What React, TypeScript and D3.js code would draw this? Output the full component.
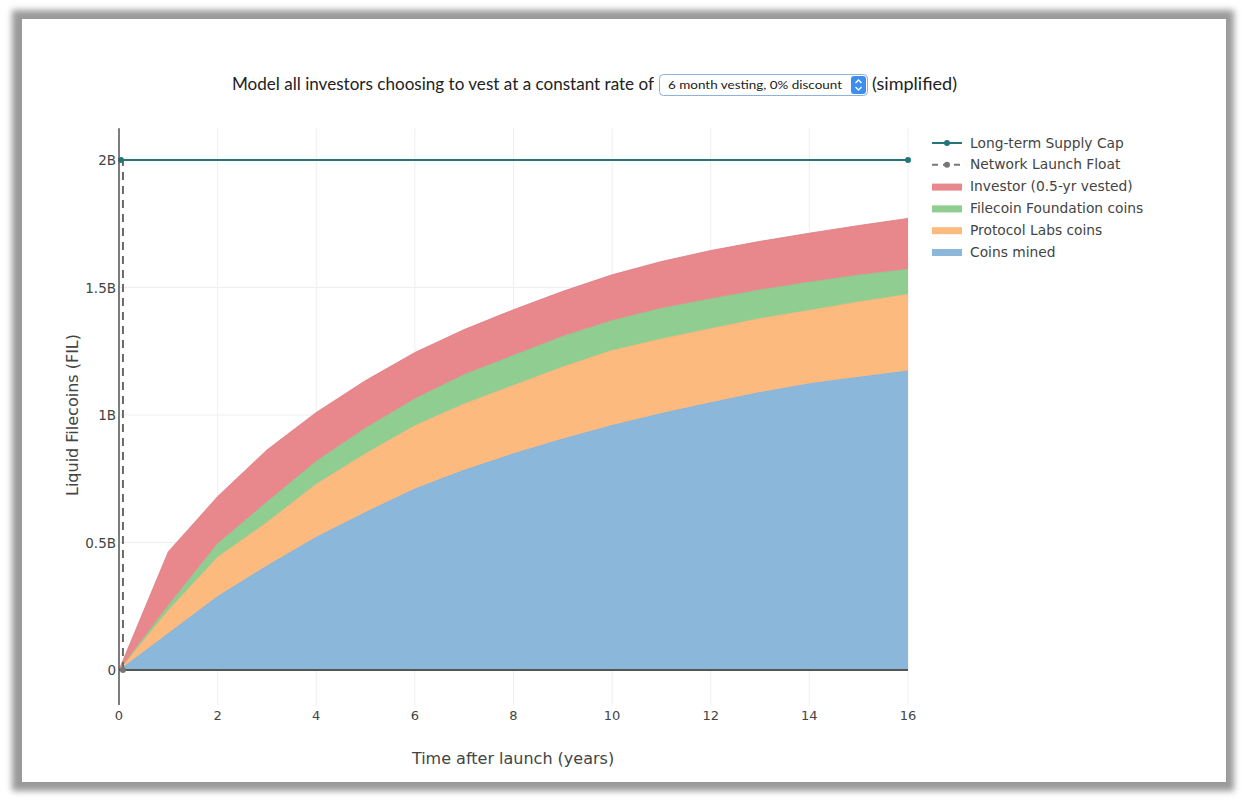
import React from "react";
import * as d3 from "d3";

const years = [0, 1, 2, 3, 4, 5, 6, 7, 8, 9, 10, 11, 12, 13, 14, 15, 16];
const coinsMined = [0, 0.145, 0.29, 0.41, 0.523, 0.62, 0.712, 0.785, 0.85, 0.908, 0.961, 1.008, 1.05, 1.09, 1.125, 1.15, 1.175];
const protocolLabs = [0, 0.09, 0.154, 0.17, 0.207, 0.23, 0.248, 0.26, 0.268, 0.282, 0.294, 0.292, 0.29, 0.29, 0.287, 0.295, 0.3];
const foundation = [0, 0.02, 0.053, 0.08, 0.09, 0.1, 0.105, 0.115, 0.117, 0.12, 0.117, 0.12, 0.117, 0.112, 0.111, 0.105, 0.098];
const investor = [0, 0.209, 0.183, 0.203, 0.19, 0.185, 0.18, 0.175, 0.178, 0.175, 0.178, 0.182, 0.188, 0.189, 0.19, 0.193, 0.198];

const supplyCap = 2; // billions
const launchFloatYear = 0.08;

const yTicks = [0, 0.5, 1, 1.5, 2];
const yTickLabels = ["0", "0.5B", "1B", "1.5B", "2B"];
const xTicks = [0, 2, 4, 6, 8, 10, 12, 14, 16];

const seriesKeys = ["mined", "pl", "ff", "inv"];
const seriesFill: Record<string, string> = {
  mined: "#8bb7db",
  pl: "#fcba7f",
  ff: "#8fcd90",
  inv: "#e8888d",
};
const seriesEdge: Record<string, string> = {
  mined: "#7aa9cf",
  pl: "#f0aa72",
  ff: "#80bf82",
  inv: "#dc7b80",
};

const legendItems = [
  { label: "Long-term Supply Cap", kind: "cap" },
  { label: "Network Launch Float", kind: "float" },
  { label: "Investor (0.5-yr vested)", kind: "inv" },
  { label: "Filecoin Foundation coins", kind: "ff" },
  { label: "Protocol Labs coins", kind: "pl" },
  { label: "Coins mined", kind: "mined" },
];

const FONT = "'DejaVu Sans', Verdana, sans-serif";
const HFONT = "Lato, 'Open Sans', sans-serif";

export default function App() {
  const W = 1248;
  const H = 800;
  const x = d3.scaleLinear().domain([0, 16]).range([119, 908]);
  const y = d3.scaleLinear().domain([0, 2]).range([670, 160]);
  const plotTop = y(2.125);
  const plotBottom = y(-0.137);

  const rows = years.map((t, i) => ({
    t,
    mined: coinsMined[i],
    pl: protocolLabs[i],
    ff: foundation[i],
    inv: investor[i],
  }));
  const stack = d3.stack<any>().keys(seriesKeys);
  const stacked = stack(rows);
  const area = d3
    .area<any>()
    .x((d) => x(d.data.t))
    .y0((d) => y(d[0]))
    .y1((d) => y(d[1]))
    .curve(d3.curveLinear);
  const topLine = d3
    .line<any>()
    .x((d) => x(d.data.t))
    .y((d) => y(d[1]));

  const teal = "#23777a";
  const axisGray = "#444";

  return (
    <div style={{ position: "absolute", left: 0, top: 0 }}>
      <svg width={W} height={H} style={{ display: "block" }}>
        <defs>
          <filter id="shadow" x="-5%" y="-5%" width="110%" height="110%">
            <feGaussianBlur stdDeviation="3" />
          </filter>
        </defs>
        <rect x={0} y={0} width={W} height={H} fill="#fff" />
        <rect x={12} y={10} width={1222} height={781} fill="#9a9a9a" filter="url(#shadow)" />
        <rect x={22} y={19} width={1204} height={763} fill="#fff" />

        {/* header */}
        <text x={232} y={90} fontFamily={HFONT} fontSize={16.5} fill="#222" textLength={422} lengthAdjust="spacingAndGlyphs">
          Model all investors choosing to vest at a constant rate of
        </text>
        <rect x={659.5} y={74.5} width={208} height={21} rx={4} fill="#fff" stroke="#8fb2d8" strokeWidth={1} />
        <text x={668} y={89} fontFamily={HFONT} fontSize={12} fill="#222" textLength={174} lengthAdjust="spacingAndGlyphs">
          6 month vesting, 0% discount
        </text>
        <rect x={851} y={76} width={15} height={18} rx={3} fill="#3d8ef0" />
        <path d="M855.5,83 L858.5,80 L861.5,83" fill="none" stroke="#fff" strokeWidth={1.3} />
        <path d="M855.5,87 L858.5,90 L861.5,87" fill="none" stroke="#fff" strokeWidth={1.3} />
        <text x={872} y={90} fontFamily={HFONT} fontSize={16.5} fill="#222" textLength={85} lengthAdjust="spacingAndGlyphs">
          (simplified)
        </text>

        {/* gridlines */}
        {xTicks.map((t) => (
          <line key={"gx" + t} x1={x(t)} x2={x(t)} y1={plotTop} y2={plotBottom} stroke="#eeeeee" strokeWidth={1} />
        ))}
        {yTicks.map((v) => (
          <line key={"gy" + v} x1={x(0)} x2={x(16)} y1={y(v)} y2={y(v)} stroke="#eeeeee" strokeWidth={1} />
        ))}

        {/* stacked areas */}
        {stacked.map((s) => (
          <g key={s.key}>
            <path d={area(s) || ""} fill={seriesFill[s.key]} />
            <path d={topLine(s) || ""} fill="none" stroke={seriesEdge[s.key]} strokeWidth={0.8} />
          </g>
        ))}

        {/* zero line */}
        <line x1={x(0)} x2={x(16)} y1={y(0)} y2={y(0)} stroke="#555" strokeWidth={2} />

        {/* launch float dashed */}
        <line
          x1={x(launchFloatYear)}
          x2={x(launchFloatYear)}
          y1={y(0)}
          y2={y(supplyCap)}
          stroke="#6a6a6a"
          strokeWidth={2}
          strokeDasharray="8,6"
        />
        <circle cx={x(launchFloatYear)} cy={y(0)} r={3} fill="#777" />

        {/* supply cap */}
        <line x1={x(0)} x2={x(16)} y1={y(supplyCap)} y2={y(supplyCap)} stroke={teal} strokeWidth={2} />
        <circle cx={x(0) + 2} cy={y(supplyCap)} r={3} fill={teal} />
        <circle cx={x(16)} cy={y(supplyCap)} r={3} fill={teal} />

        {/* y axis line */}
        <line x1={x(0)} x2={x(0)} y1={plotTop} y2={plotBottom} stroke="#555" strokeWidth={1.5} />

        {/* y tick labels */}
        {yTicks.map((v, i) => (
          <text
            key={"yl" + v}
            x={x(0) - 3}
            y={y(v) + 5}
            textAnchor="end"
            fontFamily={FONT}
            fontSize={13.5}
            fill={axisGray}
          >
            {yTickLabels[i]}
          </text>
        ))}
        {/* x tick labels */}
        {xTicks.map((t) => (
          <text key={"xl" + t} x={x(t)} y={720} textAnchor="middle" fontFamily={FONT} fontSize={13} fill={axisGray}>
            {t}
          </text>
        ))}

        {/* axis titles */}
        <text x={513} y={764} textAnchor="middle" fontFamily={FONT} fontSize={16} fill={axisGray}>
          Time after launch (years)
        </text>
        <text
          transform={`translate(78,${y(1)}) rotate(-90)`}
          textAnchor="middle"
          fontFamily={FONT}
          fontSize={16}
          fill={axisGray}
        >
          Liquid Filecoins (FIL)
        </text>

        {/* legend */}
        {legendItems.map((it, i) => {
          const ly = 143 + i * 21.8;
          let sym;
          if (it.kind === "cap") {
            sym = (
              <g>
                <line x1={932} x2={962} y1={ly} y2={ly} stroke={teal} strokeWidth={2} />
                <circle cx={947} cy={ly} r={3} fill={teal} />
              </g>
            );
          } else if (it.kind === "float") {
            sym = (
              <g>
                <line x1={932} x2={962} y1={ly} y2={ly} stroke="#777" strokeWidth={2} strokeDasharray="6,5" />
                <circle cx={947} cy={ly} r={3} fill="#777" />
              </g>
            );
          } else {
            sym = <rect x={932} y={ly - 3} width={30} height={7} fill={seriesFill[it.kind]} />;
          }
          return (
            <g key={it.label}>
              {sym}
              <text x={970} y={ly + 4.5} fontFamily={FONT} fontSize={13.8} fill={axisGray}>
                {it.label}
              </text>
            </g>
          );
        })}
      </svg>
    </div>
  );
}
